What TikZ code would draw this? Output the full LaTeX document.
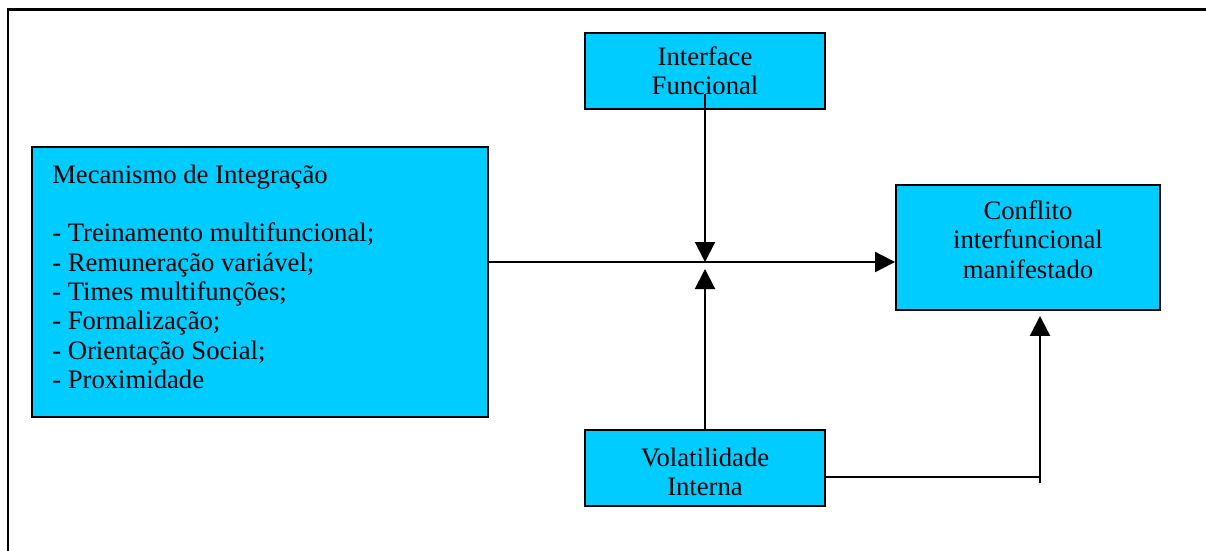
\documentclass[tikz,border=0pt]{standalone}
\usepackage{fontspec}
\setmainfont{Liberation Serif}
\usetikzlibrary{arrows.meta}
\definecolor{boxcyan}{RGB}{0,204,255}
\begin{document}
\begin{tikzpicture}[x=0.75pt,y=-0.75pt,
  txt/.style={font=\fontsize{20}{22}\selectfont},
  box/.style={txt, draw=black, line width=1.4pt, fill=boxcyan, inner sep=0pt, align=center},
  link/.style={line width=1.5pt},
  tip/.style={link, -{Triangle[width=15pt,length=15pt]}}]
\useasboundingbox (0,0) rectangle (1206,550);
% open frame (left and top edges)
\draw[line width=2pt] (8,552) -- (8,9.5) -- (1208,9.5);

% boxes
\node[box, minimum width=180pt, minimum height=57pt] (intf) at (705,71) {Interface\\Funcional};
\node[box, minimum width=342pt, minimum height=202.5pt] (mec) at (260,282) {};
\node[txt, anchor=north west, inner sep=0pt, align=left] (mectext) at (52,164.5)
  {Mecanismo de Integração\\[22pt]
   - Treinamento multifuncional;\\
   - Remuneração variável;\\
   - Times multifunções;\\
   - Formalização;\\
   - Orientação Social;\\
   - Proximidade};
\node[box, minimum width=198pt, minimum height=93.75pt] (conf) at (1028,247.5)
  {Conflito\\interfuncional\\manifestado\rule[-12pt]{0pt}{0pt}};
\node[box, minimum width=180pt, minimum height=57pt] (vol) at (705,468)
  {\rule{0pt}{19.7pt}Volatilidade\\Interna};

% junction and corner points
\coordinate (j) at (705,262);
\coordinate (turn) at (1040,477);
\coordinate (cin) at (turn |- conf.south);

% connectors
\draw[tip] (mec.east |- j) -- (conf.west |- j);
\draw[tip] ([yshift=12pt]intf.south) -- (j);
\draw[tip] (vol.north) -- ([yshift=-5.25pt]j);
\draw[link] (vol.east |- turn) -- (turn);
\draw[tip] ([yshift=-4.5pt]turn) -- ([yshift=-3.75pt]cin);
\end{tikzpicture}
\end{document}
